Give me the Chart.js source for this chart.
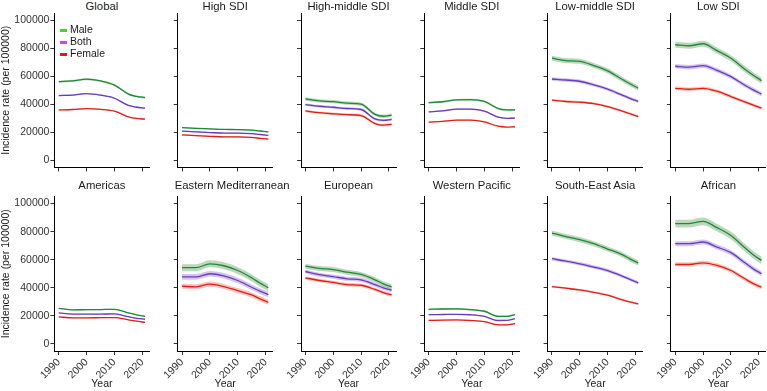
<!DOCTYPE html>
<html lang="en">
<head>
  <meta charset="UTF-8" />
  <title>Incidence rate by SDI and WHO region</title>
  <script src="https://cdn.jsdelivr.net/npm/chart.js"></script>
  <style>
    body {
      margin: 0;
      background: #fff;
      font-family: "Liberation Sans", Arial, sans-serif;
    }
    #wrap {
      position: relative;
      width: 767px;
      height: 391px;
      overflow: hidden;
    }
    #wrap canvas {
      position: absolute;
      left: 0;
      top: 0;
    }
    .ptitle {
      position: absolute;
      width: 101px;
      text-align: center;
      font-size: 11.3px;
      line-height: 13px;
      color: #1a1a1a;
      white-space: nowrap;
    }
    .leg {
      position: absolute;
      font-size: 10.5px;
      line-height: 12px;
      color: #1a1a1a;
    }
    .leg span {
      display: inline-block;
      width: 7px;
      height: 3px;
      margin-right: 3px;
      vertical-align: middle;
    }
  </style>
</head>
<body>
  <div id="wrap"></div>

  <script>
    // panels, left to right, top row then bottom row
    const panels = ["Global", "High SDI", "High-middle SDI", "Middle SDI", "Low-middle SDI", "Low SDI",
                    "Americas", "Eastern Mediterranean", "European", "Western Pacific", "South-East Asia", "African"];
    const years = [1990, 1995, 2000, 2005, 2010, 2015, 2018, 2021];
    const xTicks = [1990, 2000, 2010, 2020];
    const yTicks = [0, 20000, 40000, 60000, 80000, 100000];

    const maleRates = [
      [56100, 56700, 57900, 56600, 53700, 47300, 45600, 44800],
      [23400, 22900, 22500, 22100, 22000, 21600, 21000, 20300],
      [43800, 42400, 41900, 40800, 40100, 32800, 31500, 32300],
      [41200, 41800, 43100, 43300, 42000, 37000, 36000, 36000],
      [72800, 71100, 70600, 67600, 63800, 58000, 54600, 51400],
      [82400, 81700, 83100, 78200, 72800, 65000, 60700, 56800],
      [25400, 24300, 24400, 24500, 24700, 22200, 20800, 19700],
      [54300, 54300, 57100, 55700, 52300, 47100, 43300, 40000],
      [55400, 53800, 53000, 51100, 49500, 45700, 42800, 40700],
      [24700, 24900, 25000, 24500, 23300, 19600, 19700, 20900],
      [79000, 76500, 74300, 71400, 67600, 63800, 60600, 57600],
      [85700, 85700, 87300, 82800, 77300, 68500, 63500, 59500]
    ];
    const bothRates = [
      [46200, 46600, 47600, 46500, 44300, 39200, 37900, 37200],
      [20900, 20400, 19900, 19500, 19500, 19100, 18500, 17800],
      [39800, 38600, 37900, 37000, 36300, 29600, 28600, 29200],
      [34600, 35300, 36500, 36500, 35100, 30800, 30000, 30100],
      [58000, 57300, 56400, 53800, 50800, 46700, 44200, 42000],
      [67100, 66400, 67500, 64200, 59700, 53600, 50300, 47200],
      [22100, 21200, 21300, 21300, 21400, 19400, 18300, 17600],
      [47800, 47800, 50000, 48500, 45200, 40400, 37600, 35200],
      [51600, 49300, 48000, 46400, 45700, 42300, 40000, 38300],
      [20900, 21000, 21100, 20800, 19700, 16700, 16800, 18000],
      [60700, 59000, 57100, 54800, 52300, 48500, 46000, 43500],
      [71400, 71400, 72600, 69000, 65000, 57800, 53500, 50000]
    ];
    const femaleRates = [
      [36000, 36300, 36900, 36400, 35100, 31100, 29900, 29400],
      [18200, 17700, 17200, 16800, 16800, 16400, 15800, 15200],
      [35300, 34000, 33200, 32600, 32000, 26300, 25200, 25700],
      [27300, 27900, 28700, 28700, 27500, 24400, 23800, 24000],
      [42900, 42000, 41500, 40500, 38400, 35300, 33300, 31300],
      [51400, 50700, 51400, 49300, 45500, 41700, 39400, 37200],
      [19300, 18600, 18600, 18700, 18800, 17200, 16200, 15400],
      [41100, 40700, 42600, 40900, 38000, 34900, 32100, 29700],
      [47100, 45200, 43800, 42300, 41800, 38800, 36600, 35000],
      [16800, 17000, 17100, 16700, 15900, 13600, 13600, 14500],
      [40900, 39700, 38500, 36800, 34700, 31600, 29900, 28500],
      [56600, 56600, 57800, 55900, 52300, 46400, 43000, 40400]
    ];
    // half width of the uncertainty ribbon, per panel
    const bandMale   = [700, 400, 1200, 700, 1800, 2200, 400, 2500, 1800, 600, 1800, 2700];
    const bandBoth   = [500, 400,  900, 500, 1200, 1600, 300, 2000, 1500, 400, 1200, 1800];
    const bandFemale = [400, 400,  900, 400,  800, 1200, 300, 1800, 1300, 400,  700, 1500];

    const sexes = ["Male", "Both", "Female"];
    const lineColors = ["#1c8a3a", "#6a3cbc", "#e01f1b"];
    const bandColors = ["rgba(70,140,60,0.35)", "rgba(130,90,210,0.35)", "rgba(235,90,60,0.35)"];
    const keyColors = ["#44d52a", "#b552ee", "#ee1414"];

    // layout (px)
    const PLOT_X0 = 54.4, PLOT_STEP = 123.3, PLOT_W = 95;
    const ROW_TOP = [13, 196.5], PLOT_H = 154.5;
    const CW = 800, CH = 400;
    const FONT = { family: "'Liberation Sans', Arial, sans-serif", size: 10.5 };

    const wrap = document.getElementById("wrap");

    function pts(vals, d) {
      return years.map((y, k) => ({ x: y, y: vals[k] + d }));
    }

    function makePanel(i) {
      const col = i % 6, row = Math.floor(i / 6);
      const left = PLOT_X0 + col * PLOT_STEP;
      const top = ROW_TOP[row];
      const isLeft = col === 0, isBottom = row === 1;
      const yW = isLeft ? left : 5;
      const xH = isBottom ? 395 - (top + PLOT_H) : 5;

      const t = document.createElement("div");
      t.className = "ptitle";
      t.style.left = (left - 3) + "px";
      t.style.top = (row === 0 ? -0.5 : 178.5) + "px";
      t.textContent = panels[i];
      wrap.appendChild(t);

      const cv = document.createElement("canvas");
      cv.width = CW; cv.height = CH;
      cv.style.width = CW + "px"; cv.style.height = CH + "px";
      wrap.appendChild(cv);

      const series = [maleRates[i], bothRates[i], femaleRates[i]];
      const bands = [bandMale[i], bandBoth[i], bandFemale[i]];

      const datasets = [];
      series.forEach((s, k) => {
        datasets.push({
          label: sexes[k], data: pts(s, 0),
          borderColor: lineColors[k], borderWidth: 1.3,
          pointRadius: 0, fill: false, cubicInterpolationMode: "monotone"
        });
      });
      series.forEach((s, k) => {
        datasets.push({
          label: sexes[k] + " low", data: pts(s, -bands[k]),
          borderColor: "transparent", borderWidth: 0,
          pointRadius: 0, fill: false, cubicInterpolationMode: "monotone"
        });
        datasets.push({
          label: sexes[k] + " high", data: pts(s, bands[k]),
          borderColor: "transparent", borderWidth: 0, backgroundColor: bandColors[k],
          pointRadius: 0, fill: "-1", cubicInterpolationMode: "monotone"
        });
      });

      new Chart(cv, {
        type: "line",
        data: { datasets },
        options: {
          responsive: false,
          animation: false,
          devicePixelRatio: 1,
          layout: {
            padding: {
              left: left - yW,
              top: top,
              right: CW - left - PLOT_W,
              bottom: CH - (top + PLOT_H) - xH
            }
          },
          plugins: {
            legend: { display: false },
            tooltip: { enabled: false },
            filler: { drawTime: "beforeDatasetsDraw" }
          },
          scales: {
            x: {
              type: "linear",
              min: 1988.45, max: 2022.55,
              afterBuildTicks: sc => { sc.ticks = xTicks.map(v => ({ value: v })); },
              afterFit: sc => { sc.height = xH; },
              grid: { display: true, drawOnChartArea: false, drawTicks: true, tickLength: 4, tickColor: "#333" },
              border: { display: true, color: "#000", width: 1 },
              ticks: {
                display: isBottom, minRotation: 45, maxRotation: 45, padding: 1,
                color: "#333", font: FONT, callback: v => String(v)
              },
              title: { display: isBottom, text: "Year", color: "#1a1a1a", font: FONT, padding: { top: 0, bottom: 5 } }
            },
            y: {
              min: -5000, max: 105000,
              afterBuildTicks: sc => { sc.ticks = yTicks.map(v => ({ value: v })); },
              afterFit: sc => { sc.width = yW; },
              grid: { display: true, drawOnChartArea: false, drawTicks: true, tickLength: 4, tickColor: "#333" },
              border: { display: true, color: "#000", width: 1 },
              ticks: { display: isLeft, padding: 1, color: "#333", font: FONT, callback: v => String(v) },
              title: { display: isLeft, text: "Incidence rate (per 100000)", color: "#1a1a1a", font: FONT, padding: { top: 0, bottom: 0 } }
            }
          }
        }
      });
    }

    panels.forEach((p, i) => makePanel(i));

    // legend inside the Global panel
    sexes.forEach((s, k) => {
      const d = document.createElement("div");
      d.className = "leg";
      d.style.left = "60px";
      d.style.top = (23 + k * 12) + "px";
      d.innerHTML = '<span style="background:' + keyColors[k] + '"></span>' + s;
      wrap.appendChild(d);
    });
  </script>
</body>
</html>
